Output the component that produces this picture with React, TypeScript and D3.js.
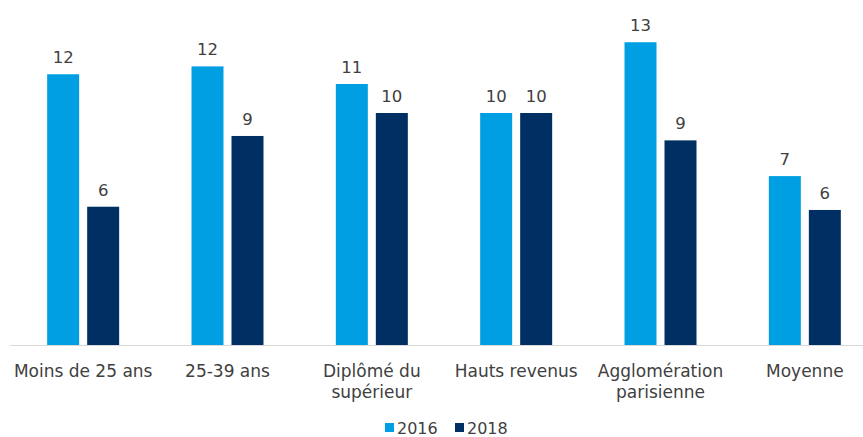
import React, { useEffect, useRef } from 'react';
import * as d3 from 'd3';

const categories = [
  'Moins de 25 ans',
  '25-39 ans',
  'Diplômé du\nsupérieur',
  'Hauts revenus',
  'Agglomération\nparisienne',
  'Moyenne',
];
const seriesNames = ['2016', '2018'];
const values2016 = [11.67, 12.01, 11.25, 10.0, 13.05, 7.28];
const values2018 = [5.96, 9.01, 10.0, 10.0, 8.82, 5.82];
const colors = ['#009FE3', '#003063'];

const W = 863;
const H = 437;

const App: React.FC = () => {
  const svgRef = useRef<SVGSVGElement>(null);

  useEffect(() => {
    if (!svgRef.current) return;
    const svg = d3.select(svgRef.current);
    svg.selectAll('*').remove();

    const font = 'Verdana, "DejaVu Sans", sans-serif';
    const baseline = 345;

    // category bands (the chart is cropped on the right)
    const x0 = d3.scaleBand<string>().domain(categories).range([11, 877]).padding(0);
    const bw = x0.bandwidth();
    const x1 = d3
      .scaleBand<string>()
      .domain(seriesNames)
      .range([bw / 2 - 36, bw / 2 + 36])
      .paddingInner(0.2)
      .paddingOuter(0);

    const y = d3.scaleLinear().domain([0, 14.5]).range([baseline, baseline - 14.5 * 23.2]);

    const series = [values2016, values2018];

    // axis line
    svg
      .append('line')
      .attr('x1', 10)
      .attr('x2', W)
      .attr('y1', baseline + 0.5)
      .attr('y2', baseline + 0.5)
      .attr('stroke', '#d9d9d9')
      .attr('stroke-width', 1);

    const g = svg
      .selectAll('.grp')
      .data(categories)
      .enter()
      .append('g')
      .attr('transform', d => `translate(${x0(d)},0)`);

    seriesNames.forEach((name, si) => {
      g.append('rect')
        .attr('x', x1(name)!)
        .attr('width', x1.bandwidth())
        .attr('y', (_, i) => y(series[si][i]))
        .attr('height', (_, i) => baseline - y(series[si][i]))
        .attr('fill', colors[si]);

      g.append('text')
        .attr('x', x1(name)! + x1.bandwidth() / 2)
        .attr('y', (_, i) => y(series[si][i]) - 11)
        .attr('text-anchor', 'middle')
        .attr('font-family', font)
        .attr('font-size', 16.5)
        .attr('fill', '#404040')
        .text((_, i) => Math.round(series[si][i]));
    });

    // category labels
    g.each(function (d) {
      const lines = d.split('\n');
      const t = d3
        .select(this)
        .append('text')
        .attr('text-anchor', 'middle')
        .attr('font-family', font)
        .attr('font-size', 17)
        .attr('fill', '#404040');
      lines.forEach((l, i) => {
        t.append('tspan')
          .attr('x', bw / 2)
          .attr('y', 377 + i * 21)
          .text(l);
      });
    });

    // legend
    const legend = svg.append('g');
    const legendX = [385, 455];
    seriesNames.forEach((name, si) => {
      legend
        .append('rect')
        .attr('x', legendX[si])
        .attr('y', 423)
        .attr('width', 9)
        .attr('height', 9)
        .attr('fill', colors[si]);
      legend
        .append('text')
        .attr('x', legendX[si] + 12)
        .attr('y', 434)
        .attr('font-family', font)
        .attr('font-size', 16)
        .attr('fill', '#404040')
        .text(name);
    });
  }, []);

  return (
    <svg
      ref={svgRef}
      width={W}
      height={H}
      style={{ position: 'absolute', left: 0, top: 0, background: '#fff' }}
    />
  );
};

export default App;
